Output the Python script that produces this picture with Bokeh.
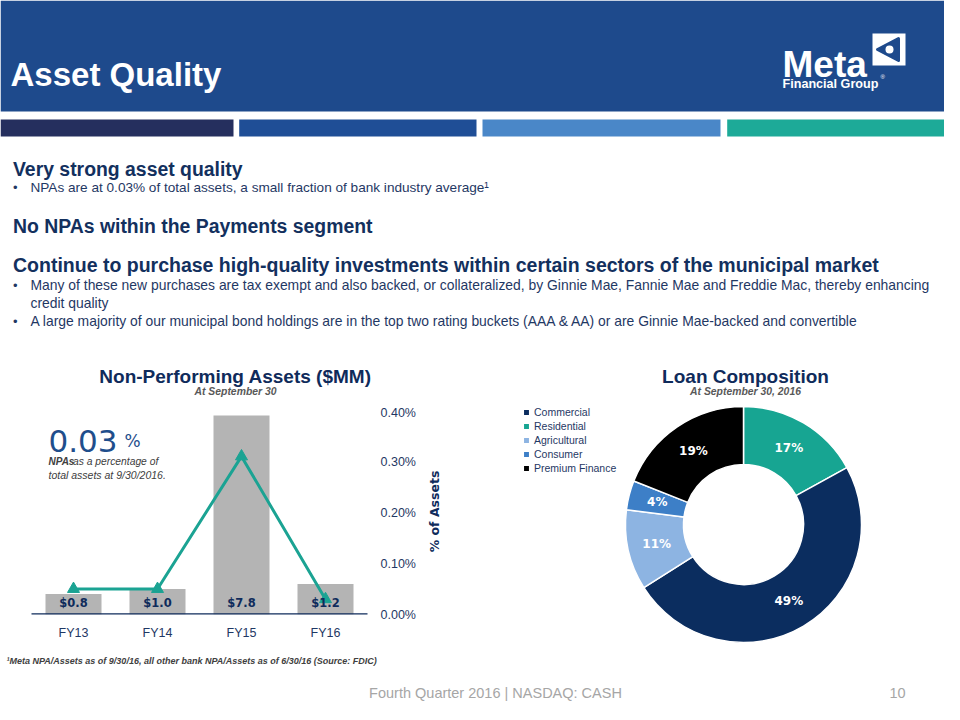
import math
from bokeh.plotting import figure
from bokeh.models import (Range1d, LinearAxis, FixedTicker, PrintfTickFormatter,
                          Legend, LegendItem, ColumnDataSource)
from bokeh.layouts import column, row
from bokeh.embed import file_html
from bokeh.resources import INLINE
from bokeh.core.properties import value

# ---------------- data ----------------
years = ["FY13", "FY14", "FY15", "FY16"]
npa_mm = [0.8, 1.0, 7.8, 1.2]                 # $MM (bars)
npa_pct = [0.05, 0.05, 0.31, 0.03]            # % of assets (line)
pct_ticks = [0.0, 0.1, 0.2, 0.3, 0.4]
loan_types = ["Residential", "Commercial", "Agricultural", "Consumer", "Premium Finance"]
loan_share = [17, 49, 11, 4, 19]
loan_colors = ["#17A592", "#0B2D5F", "#8DB4E2", "#3D7FC7", "#000000"]
legend_order = ["Commercial", "Residential", "Agricultural", "Consumer", "Premium Finance"]
headline_pct = "0.03"

# ---------------- styles ----------------
SANS = value("Liberation Sans")
DEJA = value("DejaVu Sans")
HEAD_C = "#13305E"
BODY_C = "#1F3864"
TITLE_C = "#0F2B5B"
GRAY_C = "#595959"


def no_align(p):
    if "frame_align" in p.properties():
        p.frame_align = False


def blank(width, height, xr, yr):
    p = figure(width=width, height=height, x_range=xr, y_range=yr,
               output_backend="svg", toolbar_location=None,
               x_axis_location=None, y_axis_location=None, title=None,
               min_border=0)
    p.outline_line_color = None
    p.grid.visible = False
    p.background_fill_color = "white"
    p.border_fill_color = "white"
    no_align(p)
    return p


def txt(p, x, y, s, size, color, font=SANS, style="normal", align="left",
        baseline="alphabetic", angle=0):
    p.text(x=[x], y=[y], text=[s], text_font=font, text_font_size=f"{size}px",
           text_font_style=style, text_color=color, text_align=align,
           text_baseline=baseline, angle=angle)


# ================= top section (slide px coords) =================
top = blank(944, 405, Range1d(0, 944), Range1d(405, 0))
top.quad(left=[0], right=[960], top=[0], bottom=[111], fill_color="#1E4A8C", line_color=None)
top.quad(left=[0, 238.7, 482, 726.7], right=[233, 476, 720, 960],
         top=[119] * 4, bottom=[136] * 4,
         fill_color=["#252F5E", "#1F4E96", "#4A87C8", "#1DAA98"], line_color=None)
txt(top, 10, 73.5, "Asset Quality", 33, "white", style="bold")
# logo
txt(top, 782, 63.5, "Meta", 37, "white", style="bold")
top.quad(left=[872], right=[905], top=[33], bottom=[65], fill_color="white", line_color=None)
top.patch(x=[898, 877, 898], y=[38, 49, 60], fill_color="#1E4A8C", line_color="#1E4A8C",
          line_width=3, line_join="round")
top.scatter(x=[889], y=[49], size=8, fill_color="white", line_color=None)
txt(top, 782, 83.5, "Financial Group", 12.6, "white", style="bold")
txt(top, 880, 76, "\u00ae", 6, "white")

# text block
txt(top, 12.5, 168, "Very strong asset quality", 19.4, HEAD_C, style="bold")
txt(top, 12.5, 186.5, "\u2022", 13, BODY_C)
txt(top, 30, 186.5, "NPAs are at 0.03% of total assets, a small fraction of bank industry average\u00b9", 13.6, BODY_C)
txt(top, 12.5, 225, "No NPAs within the Payments segment", 19.4, HEAD_C, style="bold")
txt(top, 12.5, 264, "Continue to purchase high-quality investments within certain sectors of the municipal market", 19.5, HEAD_C, style="bold")
txt(top, 12.5, 284.5, "\u2022", 13, BODY_C)
txt(top, 30, 284.5, "Many of these new purchases are tax exempt and also backed, or collateralized, by Ginnie Mae, Fannie Mae and Freddie Mac, thereby enhancing", 13.9, BODY_C)
txt(top, 30, 302.5, "credit quality", 13.9, BODY_C)
txt(top, 12.5, 320.5, "\u2022", 13, BODY_C)
txt(top, 30, 320.5, "A large majority of our municipal bond holdings are in the top two rating buckets (AAA & AA) or are Ginnie Mae-backed and convertible", 13.9, BODY_C)

# chart titles
txt(top, 235, 375.5, "Non-Performing Assets ($MM)", 19, TITLE_C, style="bold", align="center")
txt(top, 235, 391, "At September 30", 10.4, GRAY_C, style="bold italic", align="center")
txt(top, 745, 375.5, "Loan Composition", 19, TITLE_C, style="bold", align="center")
txt(top, 745, 391, "At September 30, 2016", 10.4, GRAY_C, style="bold italic", align="center")

# ================= bar chart =================
PX, X0 = 84.0, 73.0          # px per category, slide x of first category
FL, FR, FT, FB = 0, 375, 405, 614
UNIT = 25.5                  # px per $1MM
PCT_UNIT = 510.0             # px per 1%


def bx(px):
    return (px - X0) / PX


def by(py):
    return (FB - py) / UNIT


idx = list(range(len(years)))
bar = figure(width=420, height=245, x_range=Range1d(bx(FL), bx(FR)),
             y_range=Range1d(0, by(FT)), output_backend="svg", toolbar_location=None,
             y_axis_location=None, title=None,
             min_border_left=0, min_border_right=45, min_border_top=0, min_border_bottom=36)
bar.outline_line_color = None
bar.grid.visible = False
no_align(bar)
bar.extra_y_ranges = {"pct": Range1d(0, (FB - FT) / PCT_UNIT)}

src = ColumnDataSource(dict(x=idx, mm=npa_mm, pct=npa_pct,
                            lab=[f"${v:.1f}" for v in npa_mm]))
bar.vbar(x="x", top="mm", width=56 / PX, source=src, fill_color="#B4B4B4", line_color=None)
bar.segment(x0=[-0.5], x1=[len(years) - 0.5], y0=[0], y1=[0], line_color=TITLE_C, line_width=2.5)
bar.line(x="x", y="pct", source=src, y_range_name="pct", line_color="#1BA393", line_width=3)
bar.scatter(x="x", y="pct", source=src, y_range_name="pct", marker="triangle", size=12,
            fill_color="#1BA393", line_color="#1BA393")
bar.text(x="x", y=0, text="lab", source=src, y_offset=-12, text_align="center",
         text_baseline="middle", text_font=DEJA, text_font_style="bold",
         text_font_size="11.5px", text_color=TITLE_C)

xa = bar.xaxis[0]
xa.ticker = FixedTicker(ticks=idx)
xa.major_label_overrides = {i: y for i, y in zip(idx, years)}
xa.axis_line_color = None
xa.major_tick_line_color = None
xa.minor_tick_line_color = None
xa.major_tick_out = 0
xa.major_label_standoff = 11
xa.major_label_text_font = "Liberation Sans"
xa.major_label_text_font_size = "12.5px"
xa.major_label_text_color = BODY_C

ra = LinearAxis(y_range_name="pct", ticker=FixedTicker(ticks=pct_ticks),
                formatter=PrintfTickFormatter(format="%.2f%%"))
ra.axis_line_color = None
ra.major_tick_line_color = None
ra.minor_tick_line_color = None
ra.major_tick_out = 0
ra.major_label_standoff = 5
ra.major_label_text_font = "Liberation Sans"
ra.major_label_text_font_size = "12.5px"
ra.major_label_text_color = BODY_C
bar.add_layout(ra, "right")

# headline callout
txt(bar, bx(48), by(440), headline_pct, 31, "#1F4E8C", font=DEJA)
txt(bar, bx(124), by(440), "%", 17, "#1F4E8C", font=DEJA)
txt(bar, bx(48), by(461), "NPAs", 10, "#404040", style="bold italic")
txt(bar, bx(72.5), by(461), "as a percentage of", 10.3, "#404040", style="italic")
txt(bar, bx(48), by(474), "total assets at 9/30/2016.", 10.5, "#404040", style="italic")

# ================= donut =================
DL, DR = 420, 944
DCX, DCY = 743, 524
R_OUT, R_IN = 118, 60
donut = blank(DR - DL, 245, Range1d(DL - DCX, DR - DCX), Range1d(DCY - 650, DCY - 405))

# secondary-axis title for the bar chart (sits in this panel's left strip)
txt(donut, 433.5 - DCX, DCY - 511, "% of Assets", 12.5, TITLE_C, font=DEJA, style="bold",
    align="center", baseline="middle", angle=math.pi / 2)

total = sum(loan_share)
starts, ends, mids = [], [], []
acc = 0
for v in loan_share:
    a0 = math.pi / 2 - 2 * math.pi * acc / total
    acc += v
    a1 = math.pi / 2 - 2 * math.pi * acc / total
    starts.append(a0)
    ends.append(a1)
    mids.append((a0 + a1) / 2)
rm = (R_OUT + R_IN) / 2
dsrc = ColumnDataSource(dict(start=starts, end=ends, color=loan_colors, name=loan_types,
                             lx=[rm * math.cos(m) for m in mids],
                             ly=[rm * math.sin(m) for m in mids],
                             lab=[f"{v}%" for v in loan_share]))
wr = donut.annular_wedge(x=0, y=0, inner_radius=R_IN, outer_radius=R_OUT,
                         start_angle="start", end_angle="end", direction="clock",
                         fill_color="color", line_color="white", line_width=1.5, source=dsrc)
donut.text(x="lx", y="ly", text="lab", source=dsrc, text_align="center", text_baseline="middle",
           text_font=DEJA, text_font_style="bold", text_font_size="12px", text_color="white")

legend = Legend(items=[LegendItem(label=n, renderers=[wr], index=loan_types.index(n))
                       for n in legend_order],
                location=(522 - DL, 176), orientation="vertical",
                glyph_width=8, glyph_height=8, label_standoff=4, spacing=2,
                label_height=10, padding=0, margin=0,
                label_text_font="Liberation Sans", label_text_font_size="10.5px",
                label_text_color=BODY_C, border_line_color=None, background_fill_alpha=0)
donut.add_layout(legend)

# ================= bottom =================
bottom = blank(944, 54, Range1d(0, 944), Range1d(704, 650))
txt(bottom, 6, 660, "\u00b9Meta NPA/Assets  as of 9/30/16,  all other bank NPA/Assets  as of 6/30/16  (Source: FDIC)",
    9, "#404040", style="bold italic")
txt(bottom, 495, 692, "Fourth Quarter 2016 | NASDAQ: CASH", 14.5, "#A6A6A6", align="center")
txt(bottom, 897, 692, "10", 14.5, "#A6A6A6", align="center")

layout = column(top, row(bar, donut), bottom)
open("out.html", "w").write(file_html(layout, INLINE))
